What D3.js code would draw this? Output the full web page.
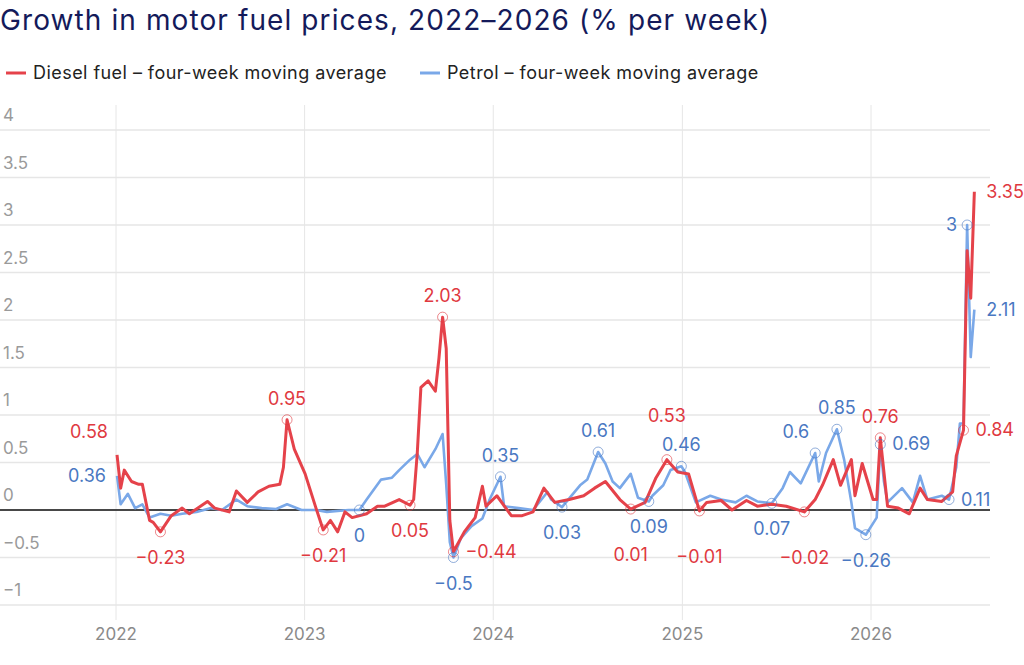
<!DOCTYPE html><html><head><meta charset="utf-8">
<script src="https://cdn.jsdelivr.net/npm/d3@7"></script>
<style>body{margin:0;background:#fff;font-family:Inter,Roboto,sans-serif}</style></head><body>
<svg id="c" width="1024" height="665"></svg>
<script>
const title="Growth in motor fuel prices, 2022–2026 (% per week)";
const seriesNames=["Diesel fuel – four-week moving average","Petrol – four-week moving average"];
const yTicks=[-1,-0.5,0,0.5,1,1.5,2,2.5,3,3.5,4];
const xTickYears=[2022,2023,2024,2025,2026];
// weeks since 2022-01-03, weekly % change
const dieselWeeks=[0,1,2,4,6,7,9,10,12,15,18,20,25,27,31,33,36,39,42,45,46,47,49,52,55,57,59,61,63,65,69,72,74,78,81,82,83,84,86,88,89,90,91,92,93,96,99,101,102,105,109,112,115,118,121,125,129,132,135,139,142,146,149,152,155,158,161,163,167,170,174,177,181,185,190,193,195,198,200,203,204,206,209,210,211,213,216,219,222,224,228,231,232,234,235,236,237];
const dieselVals=[0.58,0.23,0.42,0.3,0.27,0.27,-0.11,-0.13,-0.23,-0.06,0.02,-0.04,0.09,0.02,-0.02,0.2,0.08,0.19,0.25,0.27,0.45,0.95,0.64,0.38,0.02,-0.21,-0.11,-0.23,-0.02,-0.08,-0.04,0.04,0.04,0.11,0.05,0.11,0.6,1.29,1.36,1.25,1.6,2.03,1.7,-0.11,-0.44,-0.23,-0.08,0.25,0.04,0.15,-0.06,-0.06,-0.02,0.23,0.08,0.11,0.15,0.23,0.3,0.11,0.01,0.08,0.34,0.53,0.4,0.38,-0.01,0.08,0.1,0,0.1,0.04,0.06,0.04,-0.02,0.11,0.26,0.53,0.26,0.53,0.15,0.49,0.11,0.11,0.76,0.04,0.02,-0.04,0.23,0.11,0.09,0.19,0.57,0.84,2.73,2.23,3.35];
const petrolWeeks=[0,1,3,5,7,9,12,15,18,22,26,29,33,36,40,44,47,51,55,58,64,67,69,73,76,78,81,83,85,88,90,91,92,93,95,98,101,103,106,107,111,115,119,120,123,128,130,133,135,137,139,142,144,147,148,151,153,156,157,160,164,167,171,174,177,181,184,186,189,193,194,196,199,201,203,204,207,210,211,212,213,217,220,222,224,228,230,232,233,234,235,236,237];
const petrolVals=[0.36,0.06,0.17,0.02,0.06,-0.08,-0.04,-0.06,-0.04,-0.02,0.02,0,0.11,0.04,0.02,0.01,0.06,0,0,-0.02,0,0,0.11,0.32,0.34,0.42,0.53,0.59,0.45,0.64,0.8,0.27,-0.34,-0.5,-0.3,-0.17,-0.09,0.11,0.35,0.04,0.02,0,0.19,0.11,0.03,0.26,0.32,0.61,0.49,0.3,0.23,0.38,0.13,0.09,0.15,0.26,0.42,0.46,0.4,0.08,0.15,0.11,0.08,0.15,0.09,0.07,0.23,0.4,0.28,0.6,0.3,0.6,0.85,0.53,0.08,-0.19,-0.26,-0.08,0.69,0.3,0.08,0.23,0.08,0.36,0.11,0.15,0.11,0.45,0.91,0.91,3.0,1.61,2.11];
const annos=[
[0,0,"0.58","l0"],[0,12,"−0.23","b"],[0,47,"0.95","a"],[0,57,"−0.21","b"],[0,81,"0.05","b"],[0,90,"2.03","a"],[0,93,"−0.44","r"],[0,142,"0.01","b2"],[0,152,"0.53","a2"],[0,161,"−0.01","b2"],[0,190,"−0.02","b2"],[0,211,"0.76","a"],[0,234,"0.84","r"],[0,237,"3.35","r"],
[1,0,"0.36","l1"],[1,67,"0","b"],[1,93,"−0.5","b"],[1,106,"0.35","a"],[1,123,"0.03","b"],[1,133,"0.61","a"],[1,147,"0.09","b"],[1,156,"0.46","a"],[1,181,"0.07","b"],[1,193,"0.6","al"],[1,199,"0.85","a"],[1,207,"−0.26","b"],[1,211,"0.69","r"],[1,230,"0.11","r"],[1,235,"3","l"],[1,237,"2.11","r"]];
const colors=["#e5424a","#7aa8e8"], textColors=["#e0393f","#4a78c2"];
const start=new Date(2022,0,3);
const wd=w=>d3.timeDay.offset(start,w*7);
const svg=d3.select("#c");
const x=d3.scaleTime().domain([new Date(2022,0,1),new Date(2026,0,1)]).range([116,871]);
const y=d3.scaleLinear().domain([-1,4]).range([605,130]);
const L=0,R=990;
svg.append("text").attr("x",0).attr("y",30).attr("font-size",28).attr("letter-spacing",1.1).attr("fill","#141a5a").text(title);
seriesNames.forEach((n,i)=>{const g=svg.append("g").attr("transform",`translate(${i?420:6},73)`);
g.append("line").attr("x1",0).attr("x2",20).attr("stroke",colors[i]).attr("stroke-width",3);
g.append("text").attr("x",27).attr("y",6).attr("font-size",18).attr("letter-spacing",0.45).attr("fill","#222").text(n);});
svg.append("g").selectAll("line").data(yTicks).join("line").attr("x1",L).attr("x2",R).attr("y1",d=>y(d)).attr("y2",d=>y(d)).attr("stroke","#e6e6e6").attr("stroke-width",1.5);
svg.append("g").selectAll("text").data(yTicks).join("text").attr("x",3).attr("y",d=>y(d)-9).attr("font-size",17).attr("fill","#9a9a9a").text(d=>d<0?"−"+(-d):d);
const yrs=xTickYears.map(v=>new Date(v,0,1));
svg.append("g").selectAll("line").data(yrs).join("line").attr("x1",d=>x(d)).attr("x2",d=>x(d)).attr("y1",105).attr("y2",620).attr("stroke","#e6e6e6");
svg.append("g").selectAll("text").data(yrs).join("text").attr("x",d=>x(d)).attr("y",640).attr("text-anchor","middle").attr("font-size",17).attr("fill","#8a8a8a").text(d=>d.getFullYear());
svg.append("line").attr("x1",L).attr("x2",R).attr("y1",y(0)).attr("y2",y(0)).attr("stroke","#111").attr("stroke-width",1.5);
const data=[dieselWeeks.map((w,i)=>[w,dieselVals[i]]),petrolWeeks.map((w,i)=>[w,petrolVals[i]])];
const line=d3.line().x(d=>x(wd(d[0]))).y(d=>y(d[1]));
[1,0].forEach(i=>svg.append("path").attr("d",line(data[i])).attr("fill","none").attr("stroke",colors[i]).attr("stroke-width",i?2.6:3).attr("stroke-linejoin","round"));
annos.forEach(([s,w,t,p])=>{const d=data[s].find(e=>e[0]===w);const px=x(wd(w)),py=y(d[1]);
if(w>0&&w<237)svg.append("circle").attr("cx",px).attr("cy",py).attr("r",5).attr("fill","none").attr("stroke",textColors[s]).attr("stroke-opacity",0.6).attr("stroke-width",1);
let tx=px,ty=py,a="middle";
if(p==="a")ty=py-15;else if(p==="a2")ty=py-38;else if(p==="b")ty=py+32;else if(p==="b2")ty=py+52;else if(p==="r"){tx=px+12;ty=py+6;a="start";}
else if(p==="l"){tx=px-10;ty=py+6;a="end";}else if(p==="al"){tx=px-6;ty=py-15;a="end";}
else if(p==="l0"){tx=px-28;ty=py-17;}else if(p==="l1"){tx=px-30;ty=py+6;}
svg.append("text").attr("x",tx).attr("y",ty).attr("text-anchor",a).attr("font-size",18).attr("fill",textColors[s]).text(t);});
</script></body></html>
